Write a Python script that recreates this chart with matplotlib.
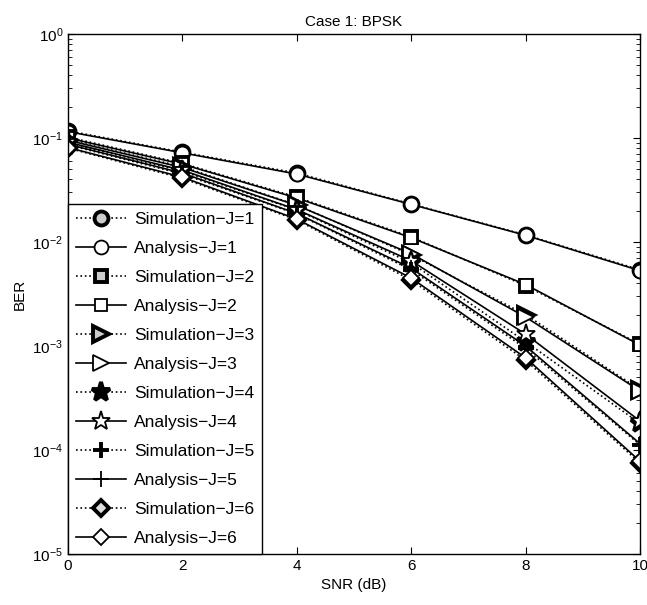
import matplotlib
matplotlib.use("Agg")
import matplotlib.pyplot as plt
import numpy as np

snr = [0, 2, 4, 6, 8, 10]

sim_j1 = [0.117, 0.073, 0.046, 0.0232, 0.0117, 0.0054]
ana_j1 = [0.115, 0.072, 0.045, 0.0230, 0.0116, 0.0053]
sim_j2 = [0.102, 0.057, 0.027, 0.0112, 0.0038, 0.00104]
ana_j2 = [0.100, 0.056, 0.0265, 0.0110, 0.0039, 0.00102]
sim_j3 = [0.096, 0.053, 0.0227, 0.0075, 0.0020, 0.00038]
ana_j3 = [0.095, 0.052, 0.0225, 0.0077, 0.0019, 0.00037]
sim_j4 = [0.090, 0.048, 0.0203, 0.0063, 0.0011, 0.00018]
ana_j4 = [0.091, 0.049, 0.0205, 0.0066, 0.0013, 0.00019]
sim_j5 = [0.086, 0.045, 0.0186, 0.0054, 0.00095, 0.000112]
ana_j5 = [0.087, 0.046, 0.0188, 0.0056, 0.00100, 0.000115]
sim_j6 = [0.080, 0.041, 0.0163, 0.0043, 0.00073, 0.000075]
ana_j6 = [0.081, 0.042, 0.0166, 0.0045, 0.00077, 0.000078]

labels_sim = ["Simulation\u2212J=%d" % j for j in range(1, 7)]
labels_ana = ["Analysis\u2212J=%d" % j for j in range(1, 7)]

plt.rcParams['font.family'] = ['Liberation Sans', 'DejaVu Sans']
fig = plt.figure(figsize=(6.47, 6.05), dpi=100)
ax = fig.add_axes([68/647, 1-554/605, (640-68)/647, (554-34)/605])

sims = [sim_j1, sim_j2, sim_j3, sim_j4, sim_j5, sim_j6]
anas = [ana_j1, ana_j2, ana_j3, ana_j4, ana_j5, ana_j6]
markers = ['o', 's', '>', '*', '+', 'D']
msizes = [10, 9, 11, 14, 11, 8]
sim_faces = ['#cccccc', '#cccccc', '#cccccc', 'black', 'black', '#dddddd']

for i in range(6):
    m = markers[i]
    ms = msizes[i]
    ax.plot(snr, sims[i], linestyle=':', color='black', linewidth=1.2,
            marker=m, markersize=ms,
            markerfacecolor=sim_faces[i], markeredgecolor='black',
            markeredgewidth=2.8, label=labels_sim[i])
    ax.plot(snr, anas[i], linestyle='-', color='black', linewidth=1.2,
            marker=m, markersize=ms,
            markerfacecolor='white', markeredgecolor='black',
            markeredgewidth=1.3, label=labels_ana[i])

ax.set_yscale('log')
ax.set_xlim(0, 10)
ax.set_ylim(1e-5, 1)
ax.set_xticks([0, 2, 4, 6, 8, 10])
ax.set_yticks([1e0, 1e-1, 1e-2, 1e-3, 1e-4, 1e-5])
ax.tick_params(which='both', direction='in', top=True, right=True, labelsize=11)
ax.tick_params(which='major', length=5)
ax.tick_params(which='minor', length=3)
for s in ax.spines.values():
    s.set_linewidth(1.0)

ax.set_xlabel('SNR (dB)', fontsize=11)
ax.set_ylabel('BER', fontsize=11)
ax.set_title('Case 1: BPSK', fontsize=11)

leg = ax.legend(loc='lower left', prop={'size': 12.5}, frameon=True, fancybox=False,
                edgecolor='black', framealpha=1, handlelength=2.9,
                borderaxespad=0, labelspacing=0.8, borderpad=0.45,
                handletextpad=0.45)
leg.get_frame().set_linewidth(1.0)

fig.savefig('out.png', dpi=100)
